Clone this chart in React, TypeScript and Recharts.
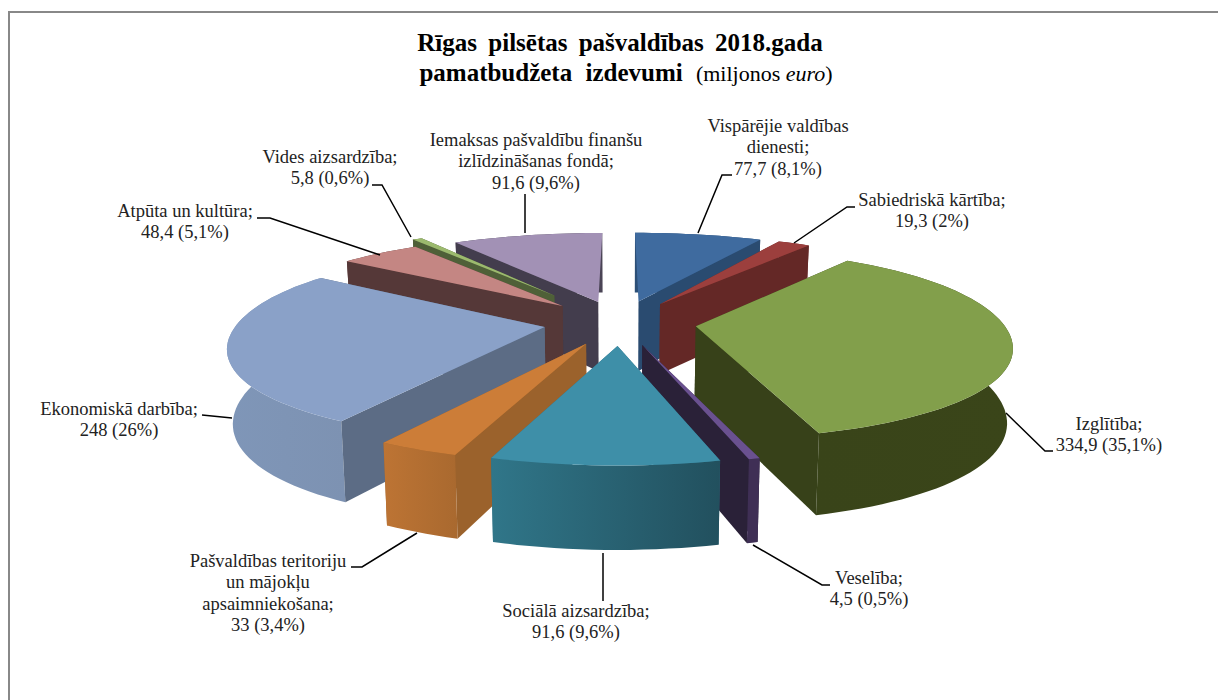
import React from "react";
import { PieChart, Pie } from "recharts";

// clockwise from 12 o'clock, same order as the source chart
const names = [
	["Vispārējie valdības", "dienesti;"],
	["Sabiedriskā kārtība;"],
	["Izglītība;"],
	["Veselība;"],
	["Sociālā aizsardzība;"],
	["Pašvaldības teritoriju", "un mājokļu", "apsaimniekošana;"],
	["Ekonomiskā darbība;"],
	["Atpūta un kultūra;"],
	["Vides aizsardzība;"],
	["Iemaksas pašvaldību finanšu", "izlīdzināšanas fondā;"],
];
const values = [77.7, 19.3, 334.9, 4.5, 91.6, 33, 248, 48.4, 5.8, 91.6];
const percents = ["8,1", "2", "35,1", "0,5", "9,6", "3,4", "26", "5,1", "0,6", "9,6"];

const topColors = ["#3f6b9f", "#9c3f3d", "#829f4b", "#6a5190", "#3e8fa8", "#cc7d38", "#8aa1c8", "#c48683", "#9cba6e", "#a291b5"];
const cutColors = ["#2a4b70", "#642826", "#374119", "#2a2138", "#2f6e82", "#9b622c", "#5c6c85", "#553838", "#4f6038", "#433d4d"];
const rimLeft = ["#2c4f76", "#6a2b29", "#394419", "#3f2f55", "#307689", "#bd7434", "#7f96b8", "#5c3c3c", "#55663b", "#4a4455"];
const rimRight = ["#2c4f76", "#6a2b29", "#3a4519", "#3f2f55", "#22505e", "#a9692f", "#7d92b2", "#5c3c3c", "#55663b", "#4a4455"];

// how far each slice is pulled out, as a share of the radius
const explosions = [0.24, 0.24, 0.24, 0.24, 0.24, 0.24, 0.24, 0.26, 0.375, 0.24];

// label placement, in page pixels
const labelCenters = [778, 932, 1109, 869, 576, 268, 119, 185, 330, 536];
const labelFirstBaselines = [132, 206, 430, 584, 617, 567, 415, 217, 163, 146];
const leaders = [
	"698,233 722,175 732,175",
	"794,243 847,207 855,207",
	"1006,413 1045,451 1053,451",
	"753,545 822,585 830,585",
	"603,553 603,601",
	"417,533 362,567 351,567",
	"232,418 202,415",
	"380,255 270,218 257,218",
	"411,237 382,185 372,185",
	"525,233 525,194",
];

const total = values.reduce((a, b) => a + b, 0);
const rows = values.map((value, i) => ({ idx: i, name: names[i].join(" "), value }));
// paint order matters for the fake 3D: back slices first, teal front slice last
const rightRows = rows.slice(0, 5);
const leftRows = rows.slice(5).reverse();
const rightSum = rightRows.reduce((a, r) => a + r.value, 0);
const leftSum = leftRows.reduce((a, r) => a + r.value, 0);

const RY = 94;
const DEPTH = 72;

function project(cx: number, cy: number, rx: number, u: number, v: number) {
	return {
		x: cx + u * rx * (1 + 0.179 * v) * (1 - 0.012 * u * u * u * u),
		y: cy + RY * v * (1 + 0.183 * v),
		d: DEPTH * (1 + 0.14 * v),
	};
}

function line(pts: { x: number; y: number }[]) {
	return "M" + pts.map((p) => `${p.x.toFixed(1)},${p.y.toFixed(1)}`).join("L") + "Z";
}

function Slice3D(props: any) {
	const { cx, cy, outerRadius, startAngle, endAngle, payload } = props;
	const i = payload.idx;
	// recharts angles are math degrees, turn them into clockwise from top
	const a0 = ((90 - Math.max(startAngle, endAngle)) * Math.PI) / 180;
	const a1 = ((90 - Math.min(startAngle, endAngle)) * Math.PI) / 180;
	const mid = (a0 + a1) / 2;
	const ex = explosions[i] * Math.sin(mid);
	const ev = -explosions[i] * Math.cos(mid);
	const at = (a: number, r = 1) =>
		project(cx, cy, outerRadius, r * Math.sin(a) + ex, -r * Math.cos(a) + ev);
	const down = (p: { x: number; y: number; d: number }) => ({
		x: cx + (p.x - cx) * 0.985,
		y: p.y + p.d,
		d: p.d,
	});

	const apex = at(0, 0);
	const arc = [];
	const steps = Math.max(2, Math.ceil(((a1 - a0) * 180) / Math.PI / 2));
	for (let s = 0; s <= steps; s++) arc.push(at(a0 + ((a1 - a0) * s) / steps));
	const first = arc[0];
	const last = arc[arc.length - 1];

	const meanY = (pts: { y: number; d: number }[]) =>
		pts.reduce((a, p) => a + p.y + p.d / 2, 0) / pts.length;
	const gradId = `rim-${i}`;
	// the cut that runs straight back along 12 o'clock is not seen
	const walls = [
		{ key: "a", pts: [apex, first], fill: cutColors[i], hidden: Math.abs(Math.sin(a0)) < 0.02 },
		{ key: "b", pts: [apex, last], fill: cutColors[i], hidden: Math.abs(Math.sin(a1)) < 0.02 },
		{ key: "r", pts: arc, fill: `url(#${gradId})`, hidden: false },
	]
		.filter((w) => !w.hidden)
		.sort((p, q) => meanY(p.pts) - meanY(q.pts));

	return (
		<g>
			<defs>
				<linearGradient id={gradId} x1="0" y1="0" x2="1" y2="0">
					<stop offset="0%" stopColor={rimLeft[i]} />
					<stop offset="100%" stopColor={rimRight[i]} />
				</linearGradient>
			</defs>
			{walls.map((w) => (
				<path
					key={w.key}
					d={line([...w.pts, ...w.pts.map(down).reverse()])}
					fill={w.fill}
				/>
			))}
			<path d={line([apex, ...arc])} fill={topColors[i]} />
		</g>
	);
}

function SliceLabel(props: any) {
	const i = props.payload.idx;
	const lines = [...names[i], `${String(values[i]).replace(".", ",")} (${percents[i]}%)`];
	return (
		<g>
			<polyline points={leaders[i]} fill="none" stroke="#000" strokeWidth={1.5} />
			<text
				x={labelCenters[i]}
				textAnchor="middle"
				fontFamily="'Liberation Serif'"
				fontSize={18.5}
				fill="#222"
			>
				{lines.map((t, n) => (
					<tspan key={n} x={labelCenters[i]} y={labelFirstBaselines[i] + n * 21.4}>
						{t}
					</tspan>
				))}
			</text>
		</g>
	);
}

export default function App() {
	return (
		<div style={{ position: "absolute", left: 0, top: 0, width: 1218, height: 700, background: "#fff" }}>
			<div
				style={{
					position: "absolute",
					left: 8,
					top: 11,
					right: 0,
					bottom: 0,
					borderLeft: "2px solid #888",
					borderTop: "2px solid #888",
				}}
			/>
			<div style={{ position: "absolute", left: 0, top: 0 }}>
				<PieChart width={1218} height={700} margin={{ top: 0, right: 0, bottom: 0, left: 0 }}>
					<text
						x={620}
						y={51}
						textAnchor="middle"
						fontFamily="'Liberation Serif'"
						fontWeight="bold"
						fontSize={25}
						wordSpacing={5}
						fill="#000"
					>
						Rīgas pilsētas pašvaldības 2018.gada
					</text>
					<text
						x={626}
						y={81}
						textAnchor="middle"
						fontFamily="'Liberation Serif'"
						fontSize={25}
						fill="#000"
					>
						<tspan fontWeight="bold" wordSpacing={7}>pamatbudžeta izdevumi </tspan>
						<tspan fontSize={22}>(miljonos </tspan>
						<tspan fontSize={22} fontStyle="italic">euro</tspan>
						<tspan fontSize={22}>)</tspan>
					</text>
					<Pie
						data={leftRows}
						dataKey="value"
						cx={620}
						cy={322.5}
						innerRadius={0}
						outerRadius={318}
						startAngle={90}
						endAngle={90 + (360 * leftSum) / total}
						shape={Slice3D}
						label={SliceLabel}
						labelLine={false}
						isAnimationActive={false}
					/>
					<Pie
						data={rightRows}
						dataKey="value"
						cx={620}
						cy={322.5}
						innerRadius={0}
						outerRadius={318}
						startAngle={90}
						endAngle={90 - (360 * rightSum) / total}
						shape={Slice3D}
						label={SliceLabel}
						labelLine={false}
						isAnimationActive={false}
					/>
				</PieChart>
			</div>
		</div>
	);
}
